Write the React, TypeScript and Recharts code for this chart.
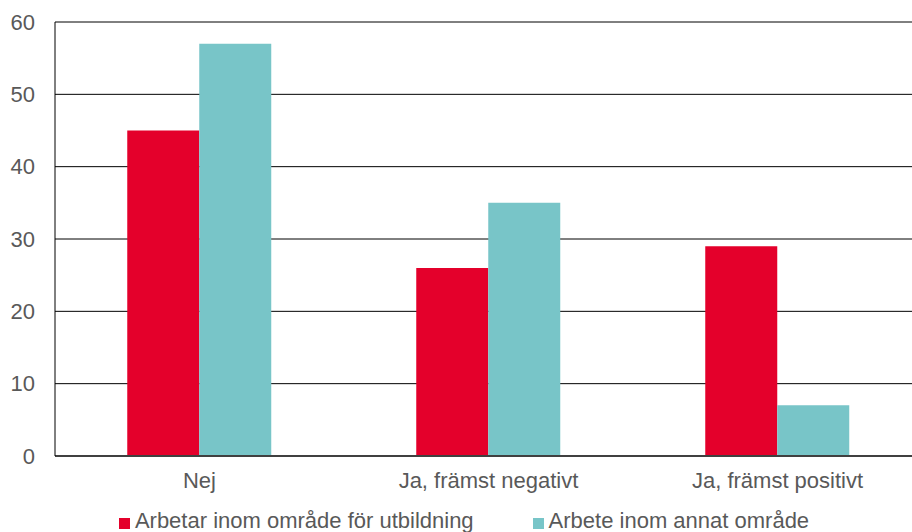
import { BarChart, Bar, XAxis, YAxis, CartesianGrid, Legend } from "recharts";

const categories = ["Nej", "Ja, främst negativt", "Ja, främst positivt"];
const inomOmrade = [45, 26, 29];
const annatOmrade = [57, 35, 7];
const yTicks = [0, 10, 20, 30, 40, 50, 60];

const series = [
  { key: "inom", name: "Arbetar inom område för utbildning", color: "#E4002B" },
  { key: "annat", name: "Arbete inom annat område", color: "#78C5C8" },
];

const data = categories.map((name, i) => ({
  name,
  inom: inomOmrade[i],
  annat: annatOmrade[i],
}));

const textColor = "#595959";

function LegendRow() {
  return (
    <div
      style={{
        height: 36,
        display: "flex",
        justifyContent: "center",
        alignItems: "flex-start",
        paddingLeft: 6,
        boxSizing: "border-box",
        fontSize: 22,
        lineHeight: "24px",
        color: textColor,
      }}
    >
      {series.map((s, i) => (
        <div
          key={s.key}
          style={{ display: "flex", alignItems: "center", marginRight: i === 0 ? 59 : 0 }}
        >
          <span
            style={{ display: "inline-block", width: 11, height: 11, background: s.color, marginRight: 5, marginTop: 4 }}
          />
          <span>{s.name}</span>
        </div>
      ))}
    </div>
  );
}

export default function App() {
  return (
    <div
      style={{
        position: "absolute",
        top: 0,
        left: 0,
        width: 912,
        height: 532,
        overflow: "hidden",
        background: "#fff",
        fontFamily: '"Liberation Sans", Arial, sans-serif',
      }}
    >
      <BarChart
        width={922}
        height={545}
        data={data}
        margin={{ top: 22, right: 0, left: 0, bottom: 0 }}
        barCategoryGap="25%"
        barGap={0}
      >
        <CartesianGrid vertical={false} stroke="#000" strokeWidth={1} />
        <XAxis
          dataKey="name"
          height={53}
          tickSize={0}
          tickLine={false}
          tickMargin={16}
          axisLine={{ stroke: "#404040", strokeWidth: 2 }}
          tick={{ fill: textColor, fontSize: 22 }}
          interval={0}
        />
        <YAxis
          width={55}
          domain={[0, 60]}
          ticks={yTicks}
          tickSize={0}
          tickLine={false}
          tickMargin={20}
          axisLine={{ stroke: "#000", strokeWidth: 1 }}
          tick={{ fill: textColor, fontSize: 22 }}
        />
        <Legend verticalAlign="bottom" content={() => <LegendRow />} />
        {series.map((s) => (
          <Bar key={s.key} dataKey={s.key} name={s.name} fill={s.color} isAnimationActive={false} />
        ))}
      </BarChart>
    </div>
  );
}
